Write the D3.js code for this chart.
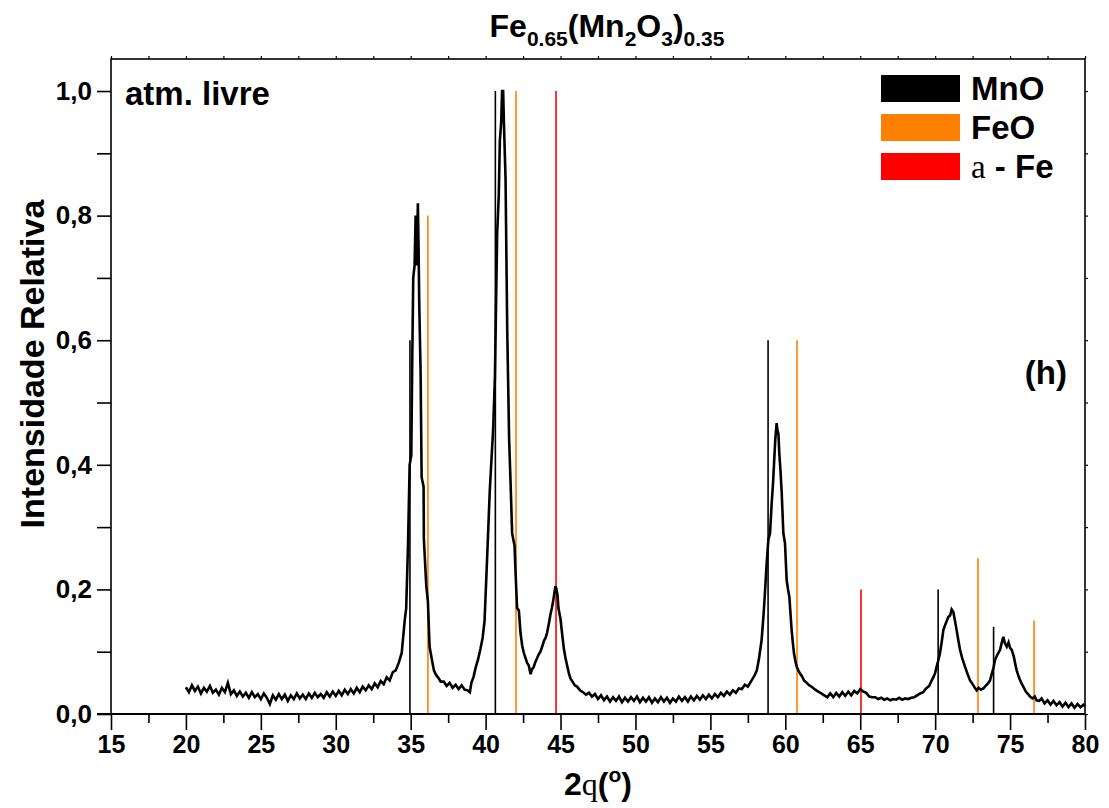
<!DOCTYPE html>
<html>
<head>
<meta charset="utf-8">
<script src="https://cdn.jsdelivr.net/npm/d3@7"></script>
<style>
  html, body { margin: 0; padding: 0; background: #fff; }
  svg { display: block; }
  text { font-family: "Liberation Sans", Arial, sans-serif; fill: #000; }
</style>
</head>
<body>
<div id="chart"></div>
<script>
// Diffraction scan: 2θ (degrees) and relative intensity
const scanAngle = [
  20.0,20.2,20.4,20.6,20.8,21.0,21.2,21.4,21.6,21.8,22.0,22.2,22.4,22.6,22.8,23.0,23.2,23.4,23.6,23.8,
  24.0,24.2,24.4,24.6,24.8,25.0,25.2,25.4,25.6,25.8,26.0,26.2,26.4,26.6,26.8,27.0,27.2,27.4,27.6,27.8,
  28.0,28.2,28.4,28.6,28.8,29.0,29.2,29.4,29.6,29.8,30.0,30.2,30.4,30.6,30.8,31.0,31.2,31.4,31.6,31.8,
  32.0,32.2,32.4,32.6,32.8,33.0,33.2,33.4,33.6,33.8,34.0,34.2,34.4,34.6,34.7,34.82,34.93,35.04,35.10,35.17,
  35.26,35.33,35.40,35.45,35.48,35.53,35.57,35.66,35.73,35.86,35.88,36.04,36.15,36.26,36.44,36.55,36.66,36.78,36.88,37.0,
  37.2,37.4,37.6,37.8,38.0,38.2,38.4,38.6,38.8,38.95,39.05,39.2,39.33,39.5,39.66,39.8,39.93,40.1,40.28,40.5,
  40.62,40.77,40.88,40.95,41.04,41.10,41.17,41.22,41.33,41.44,41.57,41.66,41.77,41.93,42.0,42.1,42.22,42.33,42.44,42.55,
  42.66,42.77,42.88,43.0,43.1,43.2,43.33,43.44,43.55,43.66,43.77,43.9,44.0,44.1,44.22,44.33,44.42,44.5,44.6,44.66,
  44.73,44.8,44.86,45.0,45.1,45.22,45.33,45.44,45.55,45.66,45.8,45.95,46.1,46.3,46.5,46.7,46.9,47.1,47.3,47.5,
  47.7,47.9,48.1,48.3,48.5,48.7,48.9,49.1,49.3,49.5,49.7,49.9,50.1,50.3,50.5,50.7,50.9,51.1,51.3,51.5,
  51.7,51.9,52.1,52.3,52.5,52.7,52.9,53.1,53.3,53.5,53.7,53.9,54.1,54.3,54.5,54.7,54.9,55.1,55.3,55.5,
  55.7,55.9,56.1,56.3,56.5,56.7,56.9,57.1,57.3,57.5,57.65,57.8,57.95,58.1,58.25,58.42,58.55,58.64,58.75,58.87,
  58.98,59.09,59.18,59.25,59.33,59.42,59.48,59.54,59.6,59.68,59.76,59.87,59.98,60.09,60.18,60.27,60.35,60.42,60.5,60.58,
  60.67,60.76,60.87,60.98,61.1,61.25,61.43,61.6,61.8,62.0,62.2,62.4,62.6,62.8,63.0,63.2,63.4,63.6,63.8,64.0,
  64.2,64.4,64.6,64.8,65.0,65.2,65.4,65.6,65.8,66.0,66.2,66.4,66.6,66.8,67.0,67.2,67.4,67.6,67.8,68.0,
  68.2,68.4,68.6,68.8,69.0,69.2,69.4,69.6,69.77,69.9,70.0,70.1,70.2,70.32,70.45,70.55,70.7,70.88,71.0,71.1,
  71.21,71.32,71.43,71.55,71.66,71.8,71.99,72.15,72.33,72.5,72.65,72.77,72.9,73.05,73.22,73.4,73.55,73.66,73.8,73.9,
  74.0,74.15,74.33,74.45,74.55,74.65,74.78,74.9,75.0,75.11,75.25,75.35,75.44,75.6,75.75,75.88,76.05,76.2,76.33,76.5,
  76.65,76.77,76.95,77.1,77.3,77.5,77.7,77.9,78.1,78.3,78.5,78.7,78.9,79.1,79.3,79.5,79.7,79.9,80.0
];
const scanIntensity = [
  .043,.035,.046,.037,.044,.033,.042,.036,.045,.034,.039,.031,.042,.035,.050,.032,.038,.029,.036,.028,
  .034,.026,.035,.027,.032,.024,.033,.026,.016,.030,.023,.032,.024,.031,.021,.030,.024,.033,.025,.031,
  .024,.033,.026,.034,.027,.032,.026,.035,.028,.036,.029,.037,.030,.039,.032,.040,.033,.042,.035,.044,
  .038,.046,.040,.049,.043,.053,.048,.059,.054,.067,.070,.082,.098,.150,.170,.270,.400,.415,.560,.700,
  .720,.800,.720,.780,.820,.740,.660,.550,.380,.365,.280,.206,.180,.108,.084,.070,.064,.060,.057,.052,
  .052,.045,.050,.042,.047,.040,.046,.039,.038,.035,.050,.060,.074,.088,.105,.122,.150,.250,.360,.456,
  .540,.770,.834,.920,.950,1.000,1.000,.950,.860,.620,.440,.375,.290,.270,.226,.170,.166,.130,.110,.098,
  .090,.082,.078,.064,.072,.075,.084,.090,.096,.100,.108,.118,.122,.130,.145,.160,.170,.180,.196,.205,
  .200,.190,.170,.152,.130,.105,.090,.078,.066,.057,.052,.046,.044,.038,.035,.031,.034,.028,.032,.024,
  .030,.022,.028,.020,.027,.021,.028,.019,.026,.020,.027,.021,.028,.019,.026,.020,.027,.018,.025,.019,
  .027,.020,.026,.018,.025,.020,.028,.021,.027,.020,.028,.022,.029,.023,.030,.024,.031,.025,.032,.027,
  .034,.029,.036,.031,.038,.034,.041,.040,.047,.044,.050,.056,.062,.070,.090,.119,.160,.194,.240,.280,
  .290,.338,.370,.403,.440,.467,.455,.450,.418,.390,.355,.290,.274,.215,.200,.188,.160,.135,.115,.097,
  .085,.076,.070,.065,.061,.054,.050,.046,.043,.039,.036,.033,.030,.027,.033,.027,.034,.028,.035,.029,
  .036,.030,.037,.033,.040,.036,.034,.028,.027,.027,.024,.026,.023,.025,.022,.024,.023,.026,.023,.025,
  .024,.026,.027,.030,.033,.035,.041,.045,.054,.060,.066,.076,.085,.097,.118,.135,.145,.156,.158,.168,
  .164,.150,.135,.118,.103,.090,.076,.065,.054,.048,.042,.038,.042,.039,.041,.046,.050,.054,.066,.075,
  .087,.095,.103,.115,.124,.114,.108,.115,.106,.103,.092,.080,.070,.058,.050,.044,.036,.032,.028,.025,
  .028,.022,.021,.025,.017,.022,.015,.021,.014,.019,.012,.018,.011,.017,.010,.016,.011,.015,.013
];

// Reference reflections (2θ, relative intensity) for each phase
const phaseNames = ["MnO", "FeO", "a - Fe"];
const phaseColors = ["#000000", "#FF8000", "#FF0000"];
const mnoAngle = [34.95, 40.65, 58.85, 70.2, 73.9];
const mnoIntensity = [0.6, 1.0, 0.6, 0.2, 0.14];
const feoAngle = [36.15, 42.03, 60.78, 72.86, 76.6];
const feoIntensity = [0.8, 1.0, 0.6, 0.25, 0.15];
const feAngle = [44.7, 65.05];
const feIntensity = [1.0, 0.2];

const xTicks = [15, 20, 25, 30, 35, 40, 45, 50, 55, 60, 65, 70, 75, 80];
const yTicks = [0, 0.2, 0.4, 0.6, 0.8, 1.0];
const yTickLabels = ["0,0", "0,2", "0,4", "0,6", "0,8", "1,0"];

(function draw() {
  const W = 1109, H = 808;
  const mLeft = 111, mRight = 1085, mTop = 59, mBottom = 714;

  const svg = d3.select("#chart").append("svg")
    .attr("width", W).attr("height", H);

  const x = d3.scaleLinear().domain([15, 80]).range([mLeft, mRight]);
  const y = d3.scaleLinear().domain([0, 1.0514]).range([mBottom, mTop]);

  // Reflection markers
  const phases = [
    {angle: mnoAngle, inten: mnoIntensity, color: phaseColors[0]},
    {angle: feoAngle, inten: feoIntensity, color: phaseColors[1]},
    {angle: feAngle, inten: feIntensity, color: phaseColors[2]}
  ];
  phases.forEach(p => {
    svg.append("g").selectAll("line")
      .data(p.angle.map((a, i) => [a, p.inten[i]]))
      .join("line")
      .attr("x1", d => x(d[0])).attr("x2", d => x(d[0]))
      .attr("y1", y(0)).attr("y2", d => y(d[1]))
      .attr("stroke", p.color)
      .attr("stroke-width", 1.6);
  });

  // Measured pattern
  const pts = d3.zip(scanAngle, scanIntensity);
  const line = d3.line().x(d => x(d[0])).y(d => y(d[1]));
  svg.append("path")
    .datum(pts)
    .attr("d", line)
    .attr("fill", "none")
    .attr("stroke", "#000")
    .attr("stroke-width", 2.6);

  // Axes: bottom and left carry labels, top and right are mirrored
  const xMinor = d3.range(17.5, 80, 5);
  const yMinor = [0.1, 0.3, 0.5, 0.7, 0.9];

  const gx = svg.append("g").attr("transform", `translate(0,${mBottom})`)
    .call(d3.axisBottom(x).tickValues(xTicks).tickFormat(d3.format("d"))
      .tickSize(16).tickPadding(5));
  gx.select(".domain").remove();
  gx.selectAll(".tick line").attr("stroke-width", 1.6);
  gx.selectAll("text").attr("font-size", 25).attr("font-weight", "bold");
  svg.append("g").attr("transform", `translate(0,${mBottom})`)
    .call(d3.axisBottom(x).tickValues(xMinor).tickSize(9).tickFormat(""))
    .call(g => g.select(".domain").remove())
    .selectAll(".tick line").attr("stroke-width", 1.6);

  const gy = svg.append("g").attr("transform", `translate(${mLeft},0)`)
    .call(d3.axisLeft(y).tickValues(yTicks)
      .tickFormat((d, i) => yTickLabels[i]).tickSize(14).tickPadding(5));
  gy.select(".domain").remove();
  gy.selectAll(".tick line").attr("stroke-width", 1.6);
  gy.selectAll("text").attr("font-size", 26).attr("font-weight", "bold");
  svg.append("g").attr("transform", `translate(${mLeft},0)`)
    .call(d3.axisLeft(y).tickValues(yMinor).tickSize(14).tickFormat(""))
    .call(g => g.select(".domain").remove())
    .selectAll(".tick line").attr("stroke-width", 1.6);

  // Mirrored short ticks on top and right
  svg.append("g").attr("transform", `translate(0,${mTop})`)
    .call(d3.axisTop(x).tickValues(xTicks.concat(xMinor)).tickSize(3).tickFormat(""))
    .call(g => g.select(".domain").remove())
    .selectAll(".tick line").attr("stroke-width", 1.2);
  svg.append("g").attr("transform", `translate(${mRight},0)`)
    .call(d3.axisRight(y).tickValues(yTicks.concat(yMinor)).tickSize(3).tickFormat(""))
    .call(g => g.select(".domain").remove())
    .selectAll(".tick line").attr("stroke-width", 1.2);

  // Frame
  svg.append("rect")
    .attr("x", mLeft).attr("y", mTop)
    .attr("width", mRight - mLeft).attr("height", mBottom - mTop)
    .attr("fill", "none").attr("stroke", "#000").attr("stroke-width", 1.6);
  svg.append("line")
    .attr("x1", mLeft - 14).attr("x2", mRight)
    .attr("y1", mBottom).attr("y2", mBottom)
    .attr("stroke", "#000").attr("stroke-width", 2.2);

  // Title with subscripts
  const title = svg.append("text")
    .attr("x", 607).attr("y", 37)
    .attr("text-anchor", "middle")
    .attr("font-size", 32).attr("font-weight", "bold");
  const titleParts = [["Fe", 0], ["0.65", 1], ["(Mn", 0], ["2", 1], ["O", 0], ["3", 1], [")", 0], ["0.35", 1]];
  let sub = false;
  titleParts.forEach(([t, s]) => {
    const ts = title.append("tspan").text(t);
    if (s) {
      ts.attr("font-size", 21);
      if (!sub) { ts.attr("dy", 9); sub = true; }
    } else if (sub) {
      ts.attr("dy", -9); sub = false;
    }
  });

  // Axis titles
  svg.append("text")
    .attr("transform", "translate(44,364) rotate(-90)")
    .attr("text-anchor", "middle")
    .attr("font-size", 34).attr("font-weight", "bold")
    .text("Intensidade Relativa");

  const xt = svg.append("text")
    .attr("x", 598).attr("y", 795)
    .attr("text-anchor", "middle")
    .attr("font-size", 32).attr("font-weight", "bold");
  xt.append("tspan").text("2");
  xt.append("tspan").attr("font-family", "'Liberation Serif', 'DejaVu Serif', serif")
    .attr("font-weight", "normal").text("q");
  xt.append("tspan").text("(");
  xt.append("tspan").attr("dy", -13).attr("font-size", 21).text("o");
  xt.append("tspan").attr("dy", 13).text(")");

  // Panel annotations
  svg.append("text").attr("x", 125).attr("y", 105)
    .attr("font-size", 33).attr("font-weight", "bold").text("atm. livre");
  svg.append("text").attr("x", 1067).attr("y", 384)
    .attr("text-anchor", "end")
    .attr("font-size", 33).attr("font-weight", "bold").text("(h)");

  // Legend
  const legend = svg.append("g").attr("transform", "translate(881,75)");
  phaseNames.forEach((name, i) => {
    const g = legend.append("g").attr("transform", `translate(0,${i * 39})`);
    g.append("rect").attr("width", 79).attr("height", 27).attr("fill", phaseColors[i]);
    const t = g.append("text").attr("x", 90).attr("y", 25)
      .attr("font-size", 33).attr("font-weight", "bold");
    if (name === "a - Fe") {
      t.append("tspan").attr("font-family", "'Liberation Serif', 'DejaVu Serif', serif")
        .attr("font-weight", "normal").text("a");
      t.append("tspan").text(" - Fe");
    } else {
      t.text(name);
    }
  });
})();
</script>
</body>
</html>
